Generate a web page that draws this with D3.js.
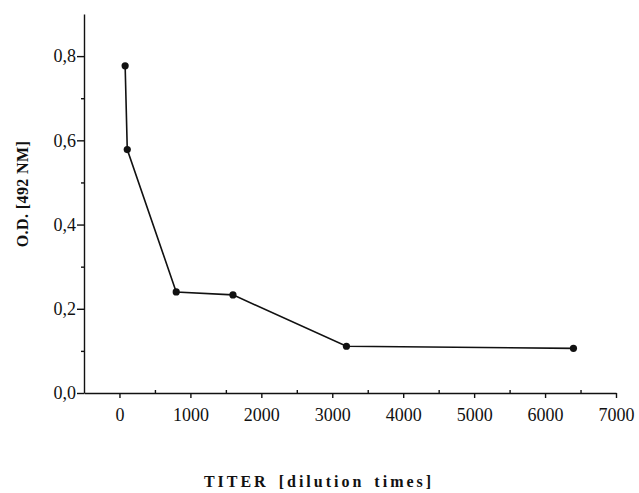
<!DOCTYPE html>
<html>
<head>
<meta charset="utf-8">
<script src="https://cdn.jsdelivr.net/npm/d3@7"></script>
<style>
  body { margin: 0; background: #fff; }
  svg { display: block; }
  .axis path, .axis line { stroke: #111; stroke-width: 1.4; }
  .axis text { font-family: "Liberation Serif", "Times New Roman", serif; font-size: 18px; fill: #111; }
</style>
</head>
<body>
<div id="chart"></div>
<script>
// titer (dilution times) and optical density
const titer = [80, 110, 800, 1600, 3200, 6400];
const od = [0.777, 0.578, 0.24, 0.233, 0.111, 0.106];

const xMajor = [0, 1000, 2000, 3000, 4000, 5000, 6000, 7000];
const xMinor = [500, 1500, 2500, 3500, 4500, 5500, 6500];
const yMajor = [0, 0.2, 0.4, 0.6, 0.8];
const yMinor = [0.1, 0.3, 0.5, 0.7];

const w = 639;
const h = 493;

const svg = d3.select("#chart")
  .append("svg")
  .attr("width", w)
  .attr("height", h);

const xScale = d3.scaleLinear()
  .domain([-500, 7000])
  .range([84, 616]);

const yScale = d3.scaleLinear()
  .domain([0, 0.9])
  .range([393, 14]);

const fmtY = d => d3.format(".1f")(d).replace(".", ",");

// x axis: minor ticks first, then major ticks with labels
svg.append("g")
  .attr("class", "axis")
  .attr("transform", "translate(0," + yScale(0) + ")")
  .call(d3.axisBottom(xScale).tickValues(xMinor).tickFormat("").tickSize(-3).tickSizeOuter(0))
  .select(".domain").remove();

svg.append("g")
  .attr("class", "axis")
  .attr("transform", "translate(0," + yScale(0) + ")")
  .call(d3.axisBottom(xScale).tickValues(xMajor).tickFormat(d3.format("d")).tickSize(5).tickSizeOuter(0).tickPadding(10));

// y axis
svg.append("g")
  .attr("class", "axis")
  .attr("transform", "translate(" + xScale(-500) + ",0)")
  .call(d3.axisLeft(yScale).tickValues(yMinor).tickFormat("").tickSize(3).tickSizeOuter(0))
  .select(".domain").remove();

svg.append("g")
  .attr("class", "axis")
  .attr("transform", "translate(" + xScale(-500) + ",0)")
  .call(d3.axisLeft(yScale).tickValues(yMajor).tickFormat(fmtY).tickSize(7).tickSizeOuter(0).tickPadding(1));

// axis titles
svg.append("text")
  .attr("transform", "translate(28,194) rotate(-90)")
  .attr("text-anchor", "middle")
  .style("font-family", "'Liberation Serif', 'Times New Roman', serif")
  .style("font-size", "16px")
  .style("font-weight", "bold")
  .style("letter-spacing", "0.4px")
  .style("fill", "#111")
  .text("O.D. [492 NM]");

svg.append("text")
  .attr("x", 319)
  .attr("y", 487)
  .attr("text-anchor", "middle")
  .style("font-family", "'Liberation Serif', 'Times New Roman', serif")
  .style("font-size", "16px")
  .style("font-weight", "bold")
  .style("letter-spacing", "3px")
  .style("word-spacing", "3px")
  .style("fill", "#111")
  .text("TITER [dilution times]");

// data line and points
const dataset = titer.map((t, i) => ({ titer: t, od: od[i] }));

const line = d3.line()
  .x(d => xScale(d.titer))
  .y(d => yScale(d.od));

svg.append("path")
  .datum(dataset)
  .attr("fill", "none")
  .attr("stroke", "#111")
  .attr("stroke-width", 1.6)
  .attr("d", line);

svg.selectAll(".dot")
  .data(dataset)
  .enter()
  .append("circle")
  .attr("class", "dot")
  .attr("cx", d => xScale(d.titer))
  .attr("cy", d => yScale(d.od))
  .attr("r", 3.6)
  .attr("fill", "#111");
</script>
</body>
</html>
